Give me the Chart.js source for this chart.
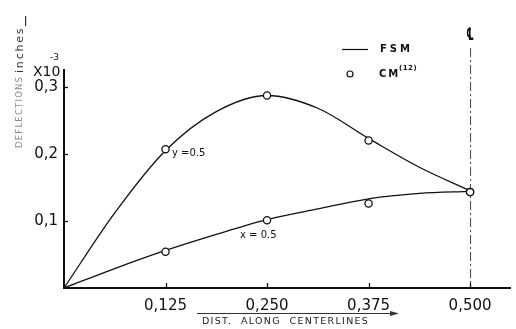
<!DOCTYPE html>
<html>
<head>
<meta charset="utf-8">
<script src="https://cdn.jsdelivr.net/npm/chart.js@4/dist/chart.umd.min.js"></script>
<style>
html,body{margin:0;padding:0;background:#fff;}
#c{display:block;}
</style>
</head>
<body>
<canvas id="c" width="516" height="329"></canvas>
<script>
// Distances along centerlines (x) for the FSM curves
const fsmDist = [0, 0.0625, 0.125, 0.1875, 0.25, 0.3125, 0.375, 0.4375, 0.5];
// FSM deflections (x 10^-3 inches)
const fsmAlongY05 = [0, 0.112, 0.205, 0.263, 0.287, 0.268, 0.223, 0.180, 0.145];
const fsmAlongX05 = [0, 0.029, 0.056, 0.080, 0.102, 0.118, 0.133, 0.141, 0.144];
// CM(12) reference points
const cmDist = [0.125, 0.25, 0.375, 0.5];
const cmAlongY05 = [0.207, 0.287, 0.220, 0.143];
const cmAlongX05 = [0.054, 0.101, 0.126, 0.143];
// Tick values / labels
const xTickValues = [0.125, 0.25, 0.375, 0.5];
const xTickLabels = ['0,125', '0,250', '0,375', '0,500'];
const yTickValues = [0.1, 0.2, 0.3];
const yTickLabels = ['0,1', '0,2', '0,3'];

const toPts = (xs, ys) => xs.map((x, i) => ({x: x, y: ys[i]}));
const INK = '#111';
const FONT = '"DejaVu Sans", sans-serif';

const decor = {
  id: 'decor',
  beforeDatasetsDraw(chart) {
    const ctx = chart.ctx, xs = chart.scales.x, ca = chart.chartArea;
    ctx.save();
    // centerline (dash-dot) at x = 0.5
    const cx = xs.getPixelForValue(0.5);
    ctx.strokeStyle = '#444';
    ctx.lineWidth = 1;
    ctx.setLineDash([9, 3, 2, 3]);
    ctx.beginPath();
    ctx.moveTo(cx + 0.5, ca.top - 22);
    ctx.lineTo(cx + 0.5, ca.bottom);
    ctx.stroke();
    ctx.setLineDash([]);
    ctx.restore();
  },
  afterDraw(chart) {
    const ctx = chart.ctx, xs = chart.scales.x, ys = chart.scales.y, ca = chart.chartArea;
    ctx.save();
    ctx.strokeStyle = INK;
    ctx.fillStyle = INK;
    ctx.lineWidth = 1.3;
    // inward tick marks
    xTickValues.forEach(v => {
      const px = Math.round(xs.getPixelForValue(v)) + 0.5;
      ctx.beginPath(); ctx.moveTo(px, ca.bottom); ctx.lineTo(px, ca.bottom - 5); ctx.stroke();
    });
    yTickValues.forEach(v => {
      const py = Math.round(ys.getPixelForValue(v)) + 0.5;
      ctx.beginPath(); ctx.moveTo(ca.left, py); ctx.lineTo(ca.left + 4, py); ctx.stroke();
    });
    // X10^-3
    ctx.font = '14px ' + FONT;
    ctx.textBaseline = 'alphabetic';
    ctx.textAlign = 'left';
    ctx.fillText('X10', 33, 76);
    ctx.font = '9px ' + FONT;
    ctx.fillText('-3', 50, 60);
    // centerline symbol
    const cx = xs.getPixelForValue(0.5);
    ctx.save();
    ctx.translate(cx, 40);
    ctx.scale(0.6, 1.25);
    ctx.font = 'bold 14px ' + FONT;
    ctx.textAlign = 'center';
    ctx.fillText('\u2104', 0, 0);
    ctx.restore();
    // legend
    ctx.lineWidth = 1.2;
    ctx.beginPath(); ctx.moveTo(342, 49.5); ctx.lineTo(368, 49.5); ctx.stroke();
    ctx.textAlign = 'left';
    ctx.textBaseline = 'middle';
    ctx.font = 'bold 10px ' + FONT;
    ctx.letterSpacing = '3px';
    ctx.fillText('FSM', 380, 49);
    ctx.beginPath(); ctx.arc(350, 74, 3, 0, Math.PI * 2);
    ctx.fillStyle = '#fff'; ctx.fill(); ctx.stroke();
    ctx.fillStyle = INK;
    ctx.letterSpacing = '2px';
    ctx.fillText('CM', 379, 74);
    ctx.font = 'bold 7px ' + FONT;
    ctx.letterSpacing = '0.5px';
    ctx.fillText('(12)', 399, 68);
    // curve labels
    ctx.letterSpacing = '0px';
    ctx.font = '10px ' + FONT;
    ctx.fillText('y =0.5', 172, 153);
    ctx.fillText('x = 0.5', 240, 235);
    // x axis title
    ctx.font = '9.5px ' + FONT;
    ctx.letterSpacing = '1.3px';
    ctx.fillStyle = '#222';
    ctx.fillText('DIST.  ALONG  CENTERLINES', 202, 322);
    ctx.strokeStyle = '#333';
    ctx.lineWidth = 1;
    ctx.beginPath(); ctx.moveTo(197, 313.5); ctx.lineTo(396, 313.5); ctx.stroke();
    ctx.beginPath(); ctx.moveTo(399, 313.5); ctx.lineTo(390, 311); ctx.lineTo(390, 316); ctx.closePath(); ctx.fillStyle = '#333'; ctx.fill();
    // y axis title (rotated)
    ctx.translate(20, 148);
    ctx.rotate(-Math.PI / 2);
    ctx.textAlign = 'left';
    ctx.font = '8.5px ' + FONT;
    ctx.letterSpacing = '1.2px';
    ctx.fillStyle = '#8a8a8a';
    ctx.fillText('DEFLECTIONS', 0, 0);
    ctx.font = '11px ' + FONT;
    ctx.letterSpacing = '1.8px';
    ctx.fillStyle = '#333';
    ctx.fillText('inches', 75, 0);
    ctx.fillRect(122, 5, 10, 1.2);
    ctx.restore();
  }
};

new Chart(document.getElementById('c'), {
  type: 'scatter',
  data: {
    datasets: [
      {
        label: 'CM (y=0.5)', data: toPts(cmDist, cmAlongY05), showLine: false,
        pointRadius: 3.6, pointBackgroundColor: '#fff', pointBorderColor: INK, pointBorderWidth: 1.3
      },
      {
        label: 'CM (x=0.5)', data: toPts(cmDist, cmAlongX05), showLine: false,
        pointRadius: 3.6, pointBackgroundColor: '#fff', pointBorderColor: INK, pointBorderWidth: 1.3
      },
      {
        label: 'FSM (y=0.5)', data: toPts(fsmDist, fsmAlongY05), showLine: true,
        pointRadius: 0, borderColor: INK, borderWidth: 1.3, cubicInterpolationMode: 'monotone'
      },
      {
        label: 'FSM (x=0.5)', data: toPts(fsmDist, fsmAlongX05), showLine: true,
        pointRadius: 0, borderColor: INK, borderWidth: 1.3, cubicInterpolationMode: 'monotone'
      }
    ]
  },
  options: {
    responsive: false,
    animation: false,
    devicePixelRatio: 1,
    layout: { padding: { left: 0, top: 70, right: 3, bottom: 0 } },
    plugins: { legend: { display: false }, tooltip: { enabled: false } },
    scales: {
      x: {
        type: 'linear', min: 0, max: 0.55,
        afterBuildTicks: s => { s.ticks = xTickValues.map(v => ({value: v})); },
        afterFit: s => { s.height = 41; },
        grid: { display: false, drawTicks: false },
        border: { display: true, color: INK, width: 2 },
        ticks: {
          padding: 9, color: INK, font: { family: 'DejaVu Sans', size: 15 },
          maxRotation: 0, autoSkip: false,
          callback: v => { const i = xTickValues.indexOf(v); return i >= 0 ? xTickLabels[i] : ''; }
        }
      },
      y: {
        type: 'linear', min: 0, max: 0.325,
        afterBuildTicks: s => { s.ticks = yTickValues.map(v => ({value: v})); },
        afterFit: s => { s.width = 64; },
        grid: { display: false, drawTicks: false },
        border: { display: true, color: INK, width: 2 },
        ticks: {
          padding: 6, color: INK, font: { family: 'DejaVu Sans', size: 15 },
          callback: v => { const i = yTickValues.findIndex(t => Math.abs(t - v) < 1e-9); return i >= 0 ? yTickLabels[i] : ''; }
        }
      }
    }
  },
  plugins: [decor]
});
</script>
</body>
</html>
